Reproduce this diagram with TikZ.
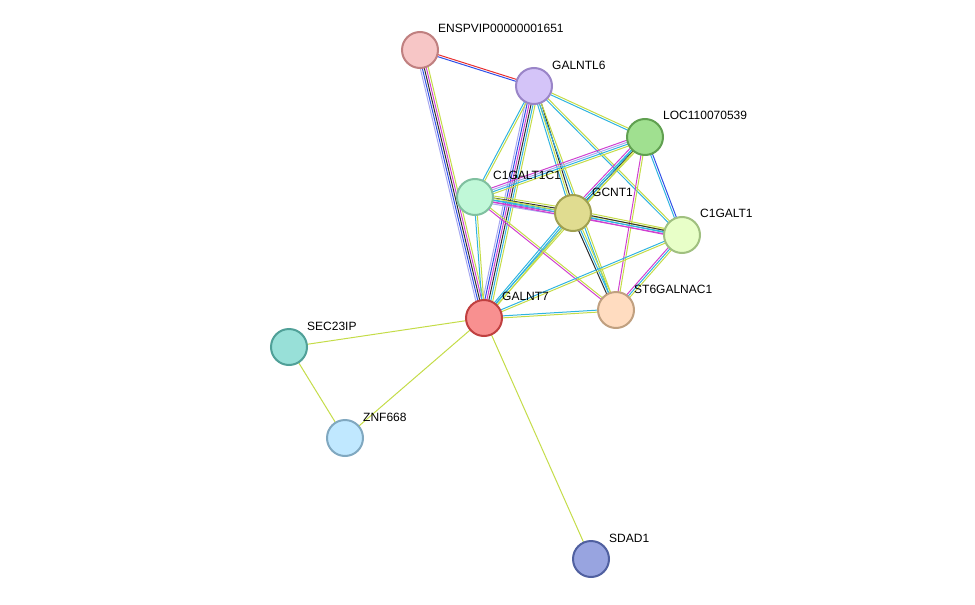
\documentclass[tikz,border=0pt]{standalone}
\usepackage{fontspec}
\setmainfont{Liberation Sans}
\usetikzlibrary{calc}
\definecolor{tm}{HTML}{C4DC48}
\definecolor{db}{HTML}{30B4E0}
\definecolor{ex}{HTML}{D040D0}
\definecolor{co}{HTML}{303030}
\definecolor{bl}{HTML}{3050E8}
\definecolor{rd}{HTML}{E83030}
\definecolor{ho}{HTML}{A8A8F0}
\newcommand{\mline}[4]{% a b n colors
  \foreach \c [count=\i] in {#4} {
    \pgfmathsetmacro\o{(\i-1)*2-(#3-1)*1}
    \draw[\c,line width=1pt] ($(#1)!\o pt!90:(#2)$) -- ($(#2)!\o pt!-90:(#1)$);
  }}
\tikzset{prot/.style={circle,minimum size=36pt,inner sep=0pt,line width=2pt},
lab/.style={anchor=west,font=\fontsize{12}{14}\selectfont,inner sep=0pt}}
\begin{document}
\begin{tikzpicture}[x=1pt,y=-1pt]
\useasboundingbox (0,0) rectangle (975,605);
\coordinate (E) at (420,50);
\coordinate (L6) at (534,86);
\coordinate (LOC) at (645,137);
\coordinate (C1C1) at (475,197);
\coordinate (GC) at (573,213);
\coordinate (C1) at (682,235);
\coordinate (ST) at (616,310);
\coordinate (G7) at (484,318);
\coordinate (SEC) at (289,347);
\coordinate (ZN) at (345,438);
\coordinate (SD) at (591,559);
\mline{E}{L6}{2}{bl,rd}
\mline{E}{G7}{5}{ho,bl,co,ex,tm}
\mline{L6}{G7}{6}{ho,bl,ex,co,db,tm}
\mline{L6}{C1C1}{2}{db,tm}
\mline{L6}{GC}{3}{db,tm,co}
\mline{L6}{LOC}{2}{db,tm}
\mline{L6}{C1}{2}{db,tm}
\mline{L6}{ST}{2}{db,tm}
\mline{LOC}{C1C1}{4}{ex,ho,db,tm}
\mline{LOC}{GC}{4}{ex,db,co,tm}
\mline{LOC}{C1}{2}{db,bl}
\mline{LOC}{ST}{2}{ex,tm}
\mline{LOC}{G7}{2}{db,tm}
\mline{C1C1}{GC}{5}{ho,ex,db,co,tm}
\mline{C1C1}{C1}{3}{ex,db,tm}
\mline{C1C1}{G7}{2}{db,tm}
\mline{C1C1}{ST}{2}{ex,tm}
\mline{GC}{C1}{4}{ex,db,co,tm}
\mline{GC}{ST}{3}{co,db,tm}
\mline{GC}{G7}{3}{db,db,tm}
\mline{C1}{ST}{3}{ex,db,tm}
\mline{C1}{G7}{2}{db,tm}
\mline{ST}{G7}{2}{db,tm}
\mline{G7}{SEC}{1}{tm}
\mline{G7}{ZN}{1}{tm}
\mline{G7}{SD}{1}{tm}
\mline{SEC}{ZN}{1}{tm}
\node[prot,fill={rgb,255:red,247;green,198;blue,198},draw={rgb,255:red,192;green,128;blue,128}] (nE) at (E) {};
\node[prot,fill={rgb,255:red,212;green,196;blue,248},draw={rgb,255:red,154;green,133;blue,200}] (nL6) at (L6) {};
\node[prot,fill={rgb,255:red,160;green,224;blue,144},draw={rgb,255:red,96;green,160;blue,80}] (nLOC) at (LOC) {};
\node[prot,fill={rgb,255:red,192;green,248;blue,216},draw={rgb,255:red,128;green,192;blue,160}] (nC1C1) at (C1C1) {};
\node[prot,fill={rgb,255:red,224;green,220;blue,144},draw={rgb,255:red,160;green,160;blue,80}] (nGC) at (GC) {};
\node[prot,fill={rgb,255:red,232;green,255;blue,200},draw={rgb,255:red,160;green,192;blue,128}] (nC1) at (C1) {};
\node[prot,fill={rgb,255:red,255;green,220;blue,192},draw={rgb,255:red,192;green,160;blue,128}] (nST) at (ST) {};
\node[prot,fill={rgb,255:red,248;green,144;blue,144},draw={rgb,255:red,192;green,64;blue,64}] (nG7) at (G7) {};
\node[prot,fill={rgb,255:red,152;green,224;blue,216},draw={rgb,255:red,80;green,160;blue,152}] (nSEC) at (SEC) {};
\node[prot,fill={rgb,255:red,192;green,232;blue,255},draw={rgb,255:red,128;green,168;blue,192}] (nZN) at (ZN) {};
\node[prot,fill={rgb,255:red,152;green,164;blue,224},draw={rgb,255:red,80;green,96;blue,160}] (nSD) at (SD) {};
\node[lab] (tE) at (438,28) {ENSPVIP00000001651};
\node[lab] (tL6) at (552,65) {GALNTL6};
\node[lab] (tLOC) at (663,115) {LOC110070539};
\node[lab] (tC1C1) at (493,175) {C1GALT1C1};
\node[lab] (tGC) at (592,192) {GCNT1};
\node[lab] (tC1) at (700,213) {C1GALT1};
\node[lab] (tST) at (634,289) {ST6GALNAC1};
\node[lab] (tG7) at (502,296) {GALNT7};
\node[lab] (tSEC) at (307,326) {SEC23IP};
\node[lab] (tZN) at (363,417) {ZNF668};
\node[lab] (tSD) at (609,538) {SDAD1};
\end{tikzpicture}
\end{document}
